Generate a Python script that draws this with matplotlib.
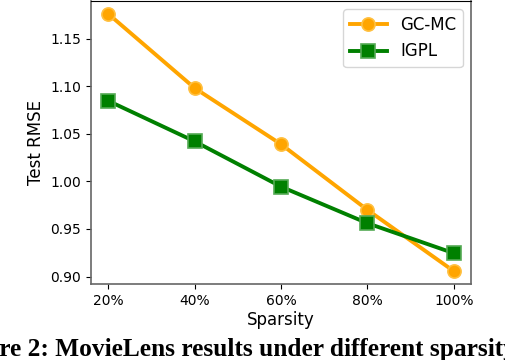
import matplotlib
matplotlib.use("Agg")
import matplotlib.pyplot as plt

sparsity = [20, 40, 60, 80, 100]
tick_labels = ["20%", "40%", "60%", "80%", "100%"]
gcmc = [1.176, 1.098, 1.039, 0.970, 0.9056]
igpl = [1.0846, 1.042, 0.9944, 0.956, 0.9245]

fig = plt.figure(figsize=(5.06, 3.6), dpi=100)
ax = fig.add_axes([0.18, 0.211, 0.751, 0.786])

ax.plot(sparsity, gcmc, color="orange", lw=2.8, marker="o", markersize=9.5,
        markeredgecolor="#ffc040", markeredgewidth=1.2, label="GC-MC")
ax.plot(sparsity, igpl, color="green", lw=2.8, marker="s", markersize=9.5,
        markeredgecolor="#55aa55", markeredgewidth=1.2, label="IGPL")

ax.set_xticks(sparsity)
ax.set_xticklabels(tick_labels)
ax.set_yticks([0.90, 0.95, 1.00, 1.05, 1.10, 1.15])
ax.tick_params(labelsize=10)
ax.set_xlabel("Sparsity", fontsize=12, labelpad=2)
ax.set_ylabel("Test RMSE", fontsize=12)
for s in ["left", "bottom", "right"]:
    ax.spines[s].set_color("#666666")
    ax.spines[s].set_linewidth(1.2)
ax.spines["top"].set_color("black")

ax.legend(loc="upper right", fontsize=12, handlelength=2.2)

fig.text(-0.098, 0.012, "Figure 2: MovieLens results under different sparsity",
         ha="left", va="baseline", fontsize=18.3, fontweight="bold",
         family="Liberation Serif")

fig.savefig("out.png", dpi=100)
